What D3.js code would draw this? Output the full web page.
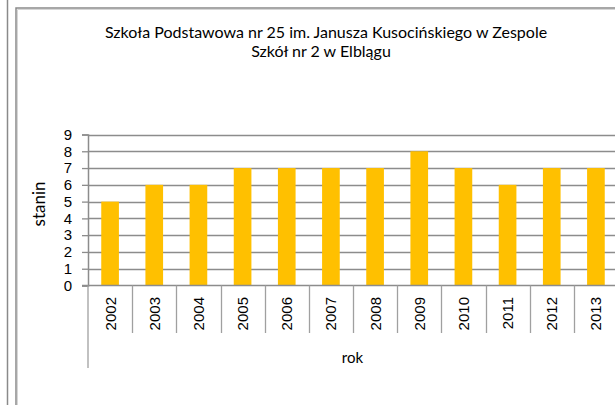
<!DOCTYPE html>
<html>
<head>
<meta charset="utf-8">
<script src="https://cdn.jsdelivr.net/npm/d3@7"></script>
<style>
  body { margin: 0; background: #fff; }
  svg { display: block; }
  .tick-label { font-family: "Liberation Sans", Arial, sans-serif; font-size: 15px; fill: #000; }
  .title, .axis-title { font-family: Lato, "Open Sans", sans-serif; fill: #000; }
</style>
</head>
<body>
<script>
// data
const years = ["2002", "2003", "2004", "2005", "2006", "2007", "2008", "2009", "2010", "2011", "2012", "2013"];
const stanin = [5, 6, 6, 7, 7, 7, 7, 8, 7, 6, 7, 7];
const yTicks = [0, 1, 2, 3, 4, 5, 6, 7, 8, 9];
const titleLines = ["Szkoła Podstawowa nr 25 im. Janusza Kusocińskiego w Zespole", "Szkół nr 2 w Elblągu"];

const width = 615;
const height = 405;
const barColor = "#ffc000";
const gridColor = "#8c8c8c";

const svg = d3.select("body").append("svg")
  .attr("width", width)
  .attr("height", height);

// frames (edge of previous chart + this chart's box)
svg.append("line")
  .attr("x1", 7.5).attr("x2", 7.5).attr("y1", 0).attr("y2", height)
  .attr("stroke", "#8a8a8a").attr("stroke-width", 1.5);
svg.append("path")
  .attr("d", `M16,${height} V8 H${width}`)
  .attr("fill", "none")
  .attr("stroke", "#8a8a8a").attr("stroke-width", 1.5);
svg.append("path")
  .attr("d", `M17.5,${height} V9.5 H${width}`)
  .attr("fill", "none")
  .attr("stroke", "#d6d6d6").attr("stroke-width", 1);

// plot area
const plot = { left: 88, right: 618, top: 134.5, bottom: 285.5 };

const x = d3.scaleBand()
  .domain(years)
  .range([plot.left, plot.right])
  .padding(0);

const y = d3.scaleLinear()
  .domain([0, 9])
  .range([plot.bottom, plot.top]);

// gridlines
svg.append("g")
  .selectAll("line")
  .data(yTicks.filter(d => d > 0))
  .enter().append("line")
    .attr("x1", plot.left)
    .attr("x2", plot.right)
    .attr("y1", d => Math.round(y(d)) + 0.5)
    .attr("y2", d => Math.round(y(d)) + 0.5)
    .attr("stroke", gridColor)
    .attr("stroke-width", 1.3);

// bars
const barW = x.bandwidth() * 0.4;
svg.append("g")
  .selectAll("rect")
  .data(stanin)
  .enter().append("rect")
    .attr("x", (d, i) => x(years[i]) + (x.bandwidth() - barW) / 2)
    .attr("width", barW)
    .attr("y", d => y(d))
    .attr("height", d => y(0) - y(d))
    .attr("fill", barColor);

// y axis
const yAxis = svg.append("g")
  .attr("transform", `translate(${plot.left},0)`)
  .call(d3.axisLeft(y).tickValues(yTicks).tickSize(6).tickPadding(10));
yAxis.select(".domain").attr("stroke", gridColor).attr("stroke-width", 1.5);
yAxis.selectAll(".tick line").attr("stroke", gridColor).attr("stroke-width", 1.3);
yAxis.selectAll(".tick text")
  .attr("class", "tick-label")
  .attr("font-family", null).attr("font-size", null);

// x axis baseline
svg.append("line")
  .attr("x1", plot.left - 6).attr("x2", plot.right)
  .attr("y1", plot.bottom).attr("y2", plot.bottom)
  .attr("stroke", gridColor).attr("stroke-width", 1.5);

// category separators below the axis
svg.append("g")
  .selectAll("line")
  .data(years.slice(1))
  .enter().append("line")
    .attr("x1", d => Math.round(x(d)) + 0.5)
    .attr("x2", d => Math.round(x(d)) + 0.5)
    .attr("y1", plot.bottom)
    .attr("y2", 333)
    .attr("stroke", "#a0a0a0")
    .attr("stroke-width", 1.3);

// outer group line (multi-level axis)
svg.append("line")
  .attr("x1", plot.left).attr("x2", plot.left)
  .attr("y1", plot.bottom).attr("y2", 368)
  .attr("stroke", "#a0a0a0").attr("stroke-width", 1.3);

// year labels
svg.append("g")
  .selectAll("text")
  .data(years)
  .enter().append("text")
    .attr("class", "tick-label")
    .attr("text-anchor", "end")
    .attr("transform", d => `translate(${x(d) + x.bandwidth() / 2 + 5.5},297) rotate(-90)`)
    .text(d => d);

// titles
svg.append("g")
  .selectAll("text")
  .data(titleLines)
  .enter().append("text")
    .attr("class", "title")
    .attr("x", (d, i) => i === 0 ? 326 : 321)
    .attr("y", (d, i) => 37.5 + i * 19.5)
    .attr("text-anchor", "middle")
    .attr("font-size", 16)
    .text(d => d);

svg.append("text")
  .attr("class", "axis-title")
  .attr("text-anchor", "middle")
  .attr("font-size", 17)
  .attr("transform", "translate(45,204) rotate(-90)")
  .text("stanin");

svg.append("text")
  .attr("class", "axis-title")
  .attr("text-anchor", "middle")
  .attr("font-size", 15)
  .attr("x", 352.5)
  .attr("y", 363)
  .text("rok");
</script>
</body>
</html>
